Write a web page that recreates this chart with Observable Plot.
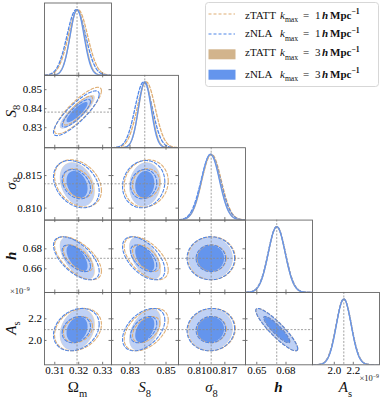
<!DOCTYPE html>
<html><head><meta charset="utf-8">
<script src="https://cdn.jsdelivr.net/npm/d3@7"></script>
<script src="https://cdn.jsdelivr.net/npm/@observablehq/plot@0.6"></script>
<style>body{margin:0;background:#fff}</style>
</head><body><div id="chart"></div>
<script>
// ---------------- data ----------------
const paramNames = ["Omega_m", "S8", "sigma8", "h", "A_s"];
const truth = [0.3193, 0.8382, 0.8132, 0.6705, 2.10];
// marginal means and standard deviations
const meanTATT1 = [0.3197, 0.8390, 0.8133, 0.6706, 2.100];
const sdTATT1   = [0.0040, 0.0050, 0.0027, 0.0088, 0.080];
const meanNLA1  = [0.3190, 0.8376, 0.8131, 0.6705, 2.100];
const sdNLA1    = [0.0039, 0.0048, 0.0027, 0.0088, 0.080];
const meanTATT3 = [0.3194, 0.8384, 0.8131, 0.6705, 2.100];
const sdTATT3   = [0.0030, 0.0036, 0.0025, 0.0086, 0.079];
const meanNLA3  = [0.3193, 0.8382, 0.8130, 0.6705, 2.100];
const sdNLA3    = [0.0029, 0.0035, 0.0025, 0.0086, 0.078];
// correlation coefficient: row parameter vs column parameter
const corr = [
  [],
  [0.85],
  [-0.30, 0.10],
  [-0.60, -0.55, 0.00],
  [0.25, 0.45, 0.05, -0.90]
];
const xTickValues = [[0.31, 0.32, 0.33], [0.83, 0.85], [0.810, 0.817], [0.65, 0.68], [2.0, 2.2]];
const xTickLabels = [["0.31", "0.32", "0.33"], ["0.83", "0.85"], ["0.810", "0.817"], ["0.65", "0.68"], ["2.0", "2.2"]];
const yTickValues = [[], [0.83, 0.84, 0.85], [0.8064, 0.8155], [0.66, 0.68], [2.0, 2.2]];
const yTickLabels = [[], ["0.83", "0.84", "0.85"], ["0.810", "0.815"], ["0.66", "0.68"], ["2.0", "2.2"]];
const seriesNames = ["zTATT", "zNLA", "zTATT", "zNLA"];
const seriesKmax = [1, 1, 3, 3];
const offsetText = [{t: "×10"}, {t: "−9", sup: 1}];
const axisTitles = [
  [{t: "Ω"}, {t: "m", sub: 1}],
  [{t: "S", it: 1}, {t: "8", sub: 1}],
  [{t: "σ", it: 1}, {t: "8", sub: 1}],
  [{t: "h", it: 1, b: 1}],
  [{t: "A", it: 1}, {t: "s", sub: 1}]
];

// ---------------- scales / style config ----------------
const xDomains = [[0.3057, 0.3337], [0.81972, 0.85694], [0.80412, 0.82274], [0.63839, 0.70724], [1.7705, 2.4758]];
const yDomains = [null, [0.81947, 0.85752], [0.80306, 0.82328], [0.6363, 0.7088], [1.775, 2.4435]];
const SERIF = "'Liberation Serif', 'Times New Roman', 'DejaVu Serif', serif";
const L = 44, T = 2.5, W = 67, H = 72.36;
const K68 = 1.515, K95 = 2.448;
const sets = [
  {mean: meanTATT3, sd: sdTATT3, kind: "fill", outer: "#ead9c3", inner: "#D2B48C", line: "#D2B48C"},
  {mean: meanNLA3,  sd: sdNLA3,  kind: "fill", outer: "#bfd1f5", inner: "#6495ED", line: "#6495ED"},
  {mean: meanTATT1, sd: sdTATT1, kind: "dash", line: "#dfae74"},
  {mean: meanNLA1,  sd: sdNLA1,  kind: "dash", line: "#4f86e8"}
];

const svg = d3.create("svg").attr("width", 381).attr("height", 398).attr("viewBox", "0 0 381 398")
  .style("background", "white").style("display", "block").attr("font-family", SERIF);

function ellipsePts(mx, my, sx, sy, rho, k) {
  const r = Math.sqrt(1 - rho * rho);
  return d3.range(121).map(n => {
    const t = 2 * Math.PI * n / 120;
    return {x: mx + k * sx * Math.cos(t), y: my + k * sy * (rho * Math.cos(t) + r * Math.sin(t))};
  });
}

function rich(textSel, parts, size) {
  let shift = 0;
  for (const p of parts) {
    const ts = textSel.append("tspan").text(p.t);
    const target = p.sub ? size * 0.3 : p.sup ? -size * 0.4 : 0;
    if (target !== shift) { ts.attr("dy", target - shift); shift = target; }
    if (p.sub || p.sup) ts.attr("font-size", size * 0.7);
    if (p.it) ts.attr("font-style", "italic");
    if (p.b) ts.attr("font-weight", "bold");
    if (p.x != null) ts.attr("x", p.x);
  }
}

function place(plotEl, x, y) {
  const g = svg.append("g").attr("transform", `translate(${x},${y})`);
  for (const a of ["fill", "stroke", "text-anchor"]) if (plotEl.hasAttribute(a)) g.attr(a, plotEl.getAttribute(a));
  g.attr("font-family", SERIF).attr("font-size", 11);
  while (plotEl.firstChild) g.node().appendChild(plotEl.firstChild);
}

const tickStyle = {stroke: "#555", strokeWidth: 0.8};

function buildPanel(i, j) {
  const marks = [];
  const is1D = i === j;
  const xl = new Map(xTickValues[j].map((v, k) => [v, xTickLabels[j][k]]));
  if (is1D) {
    const dom = xDomains[j];
    const xs = d3.range(201).map(n => dom[0] + (dom[1] - dom[0]) * n / 200);
    const order = [2, 3, 0, 1];
    for (const si of order) {
      const s = sets[si];
      const pts = xs.map(x => ({x, y: Math.exp(-0.5 * ((x - s.mean[j]) / s.sd[j]) ** 2)}));
      marks.push(Plot.line(pts, {x: "x", y: "y", stroke: s.line, strokeWidth: 1.3,
        ...(s.kind === "dash" ? {strokeDasharray: "3,2"} : {}), clip: true}));
    }
    marks.push(Plot.ruleX([truth[j]], {stroke: "#8a8a8a", strokeWidth: 0.8, strokeDasharray: "2,1.5"}));
  } else {
    const rho = corr[i][j];
    for (const s of sets) {
      if (s.kind === "fill") {
        marks.push(Plot.line(ellipsePts(s.mean[j], s.mean[i], s.sd[j], s.sd[i], rho, K95), {x: "x", y: "y", fill: s.outer, stroke: "none", clip: true}));
        marks.push(Plot.line(ellipsePts(s.mean[j], s.mean[i], s.sd[j], s.sd[i], rho, K68), {x: "x", y: "y", fill: s.inner, stroke: "none", clip: true}));
      }
    }
    for (const s of sets) {
      if (s.kind === "dash") {
        for (const k of [K95, K68]) {
          marks.push(Plot.line(ellipsePts(s.mean[j], s.mean[i], s.sd[j], s.sd[i], rho, k),
            {x: "x", y: "y", stroke: s.line, strokeWidth: 1.1, strokeDasharray: "3,2", clip: true}));
        }
      }
    }
    marks.push(Plot.ruleX([truth[j]], {stroke: "#8a8a8a", strokeWidth: 0.8, strokeDasharray: "2,1.5"}));
    marks.push(Plot.ruleY([truth[i]], {stroke: "#8a8a8a", strokeWidth: 0.8, strokeDasharray: "2,1.5"}));
    marks.push(Plot.tickX(xTickValues[j], {x: d => d, insetBottom: H - 2.5, ...tickStyle}));
    marks.push(Plot.tickY(yTickValues[i], {y: d => d, insetRight: W - 2.5, ...tickStyle}));
    marks.push(Plot.tickY(yTickValues[i], {y: d => d, insetLeft: W - 2.5, ...tickStyle}));
  }
  marks.push(Plot.tickX(xTickValues[j], {x: d => d, insetTop: H - 2.5, ...tickStyle}));
  const hasY = j === 0 && i > 0;
  const hasX = i === 4;
  if (hasY) {
    const yl = new Map(yTickValues[i].map((v, k) => [v, yTickLabels[i][k]]));
    marks.push(Plot.axisY({ticks: yTickValues[i], anchor: "left", tickSize: 0, tickPadding: 2.5,
      tickFormat: d => yl.get(d), label: null}));
  }
  if (hasX) {
    marks.push(Plot.axisX({ticks: xTickValues[j], anchor: "bottom", tickSize: 0, tickPadding: 1,
      tickFormat: d => xl.get(d), label: null}));
  }
  marks.push(Plot.frame({stroke: "#666", strokeWidth: 0.9}));
  const p = Plot.plot({
    width: W, height: H, margin: 0,
    x: {domain: xDomains[j], ...(hasX ? {} : {axis: null})},
    y: {domain: is1D ? [0, 1.1] : yDomains[i], ...(hasY ? {} : {axis: null})},
    marks
  });
  place(p, L + j * W, T + i * H);
}

for (let i = 0; i < 5; i++) for (let j = 0; j <= i; j++) buildPanel(i, j);

// axis titles
for (let j = 0; j < 5; j++) {
  const t = svg.append("text").attr("x", L + (j + 0.5) * W).attr("y", 392)
    .attr("text-anchor", "middle").attr("font-size", 15).attr("fill", "#111");
  rich(t, axisTitles[j], 15);
}
for (let i = 1; i < 5; i++) {
  const t = svg.append("text").attr("transform", `translate(15.5,${T + (i + 0.5) * H}) rotate(-90)`)
    .attr("text-anchor", "middle").attr("font-size", 15).attr("fill", "#111");
  rich(t, axisTitles[i], 15);
}
// offset texts (×10^-9)
{
  const t1 = svg.append("text").attr("x", 379).attr("y", 381).attr("text-anchor", "end").attr("font-size", 8.5).attr("fill", "#222");
  rich(t1, offsetText, 8.5);
  const t2 = svg.append("text").attr("x", 10).attr("y", 294).attr("text-anchor", "start").attr("font-size", 8.5).attr("fill", "#222");
  rich(t2, offsetText, 8.5);
}

// legend
{
  const g = svg.append("g");
  g.append("rect").attr("x", 205.5).attr("y", 2.5).attr("width", 173).attr("height", 84).attr("rx", 3)
    .attr("fill", "white").attr("stroke", "#d3d3d3").attr("stroke-width", 0.9);
  const legendSets = [sets[2], sets[3], sets[0], sets[1]];
  const sampleY = [14, 34, 54.3, 74.7];
  const textY = [18.6, 37.2, 56.4, 77.6];
  legendSets.forEach((s, k) => {
    if (s.kind === "dash") {
      g.append("line").attr("x1", 208.5).attr("x2", 235).attr("y1", sampleY[k]).attr("y2", sampleY[k])
        .attr("stroke", s.line).attr("stroke-width", 1.2).attr("stroke-dasharray", "3,2");
    } else {
      g.append("rect").attr("x", 208.5).attr("y", sampleY[k] - 5).attr("width", 27).attr("height", 10).attr("fill", s.inner);
    }
    const t = g.append("text").attr("x", 245).attr("y", textY[k]).attr("font-size", 11).attr("fill", "#111");
    rich(t, [
      {t: seriesNames[k]},
      {t: "k", it: 1, x: 280},
      {t: "max", sub: 1},
      {t: "=", x: 303},
      {t: String(seriesKmax[k]), x: 315},
      {t: "h", it: 1, b: 1, x: 322},
      {t: "Mpc", b: 1, x: 330},
      {t: "−1", sup: 1, b: 1}
    ], 11);
  });
}

document.getElementById("chart").appendChild(svg.node());
</script>
</body></html>
